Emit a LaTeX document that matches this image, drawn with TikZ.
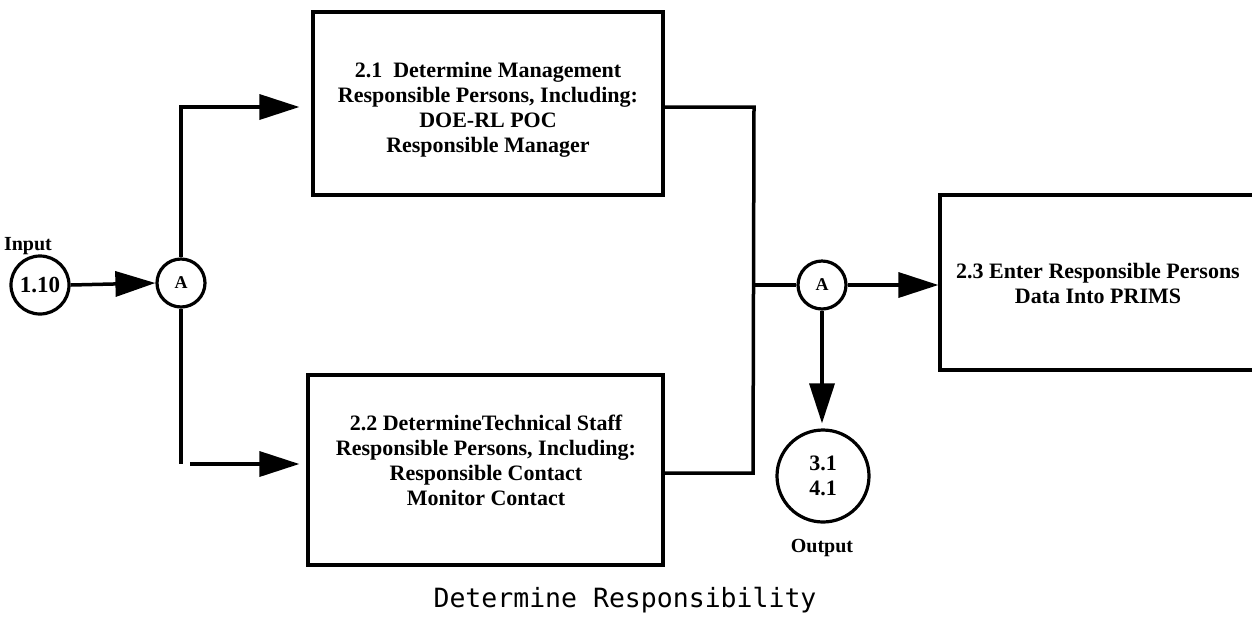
\documentclass[tikz,border=0pt]{standalone}
\usepackage{fontspec}
\setmainfont{Liberation Serif}
\newfontfamily\capfont{DejaVu Sans Mono}
\usetikzlibrary{arrows.meta}
\tikzset{
  ln/.style={line width=3.5pt},
  arr/.style={ln, -{Triangle[length=40pt,width=25pt]}},
  boxnode/.style={draw, line width=3.2pt, inner sep=0pt},
  cnode/.style={draw, circle, line width=3.2pt, inner sep=0pt, font=\bfseries\fontsize{22}{25}\selectfont},
  anode/.style={draw, circle, line width=3.2pt, inner sep=0pt, minimum size=48pt, font=\bfseries\fontsize{18}{20}\selectfont},
  btext/.style={align=center, font=\bfseries\fontsize{22}{25}\selectfont},
  lbl/.style={font=\bfseries\fontsize{20}{24}\selectfont}
}
\begin{document}
\begin{tikzpicture}[x=1pt,y=-1pt]
\useasboundingbox (0,0) rectangle (1252,625);
% boxes
\node[boxnode, minimum width=350pt, minimum height=183pt] (b21) at (488,103.5) {};
\node[boxnode, minimum width=355pt, minimum height=190pt] (b22) at (485.5,470) {};
\node[boxnode, minimum width=380pt, minimum height=175pt] (b23) at (1130,282.5) {};
\node[btext] (t21) at (488,110) {2.1\enspace Determine Management\\Responsible Persons, Including:\\DOE-RL POC\\Responsible Manager};
\node[btext] (t22) at (486,460) {2.2 DetermineTechnical Staff\\Responsible Persons, Including:\\Responsible Contact\\Monitor Contact};
\node[btext] (t23) at (1098,283) {2.3 Enter Responsible Persons\\Data Into PRIMS};
% circles
\node[cnode, minimum size=58pt, font=\bfseries\fontsize{23}{25}\selectfont] (in) at (40,285) {1.10};
\node[lbl] (inl) at (28,246) {Input};
\node[anode] (a1) at (181,283) {A};
\node[anode] (a2) at (822,285) {A};
\node[cnode, minimum size=92pt, align=center] (out) at (823,476) {3.1\\4.1};
\node[lbl] (outl) at (822,548) {Output};
% caption
\node[font=\capfont\fontsize{26.5}{30}\selectfont] (cap) at (625,600) {Determine Responsibility};
% connectors
\draw[arr] (in.east) -- (a1.west);
\draw[arr, shorten >=12pt] (a1.north) |- (b21.west |- 0,107);
\coordinate (lb) at (181,464);
\draw[ln] (a1.south) -- (lb);
\draw[arr, shorten >=7pt] ([xshift=9pt]lb) -- (b22.west |- lb);
\coordinate (jt) at (754,107);
\coordinate (jb) at (753,473);
\draw[ln] (b21.east |- jt) -- (jt) -- (jb) -- (b22.east |- jb);
\draw[ln] (jt |- a2) -- (a2.west);
\draw[arr] (a2.east) -- (b23.west |- a2);
\draw[arr, shorten >=5pt] (a2.south) -- (a2.south |- out.north);
\end{tikzpicture}
\end{document}
